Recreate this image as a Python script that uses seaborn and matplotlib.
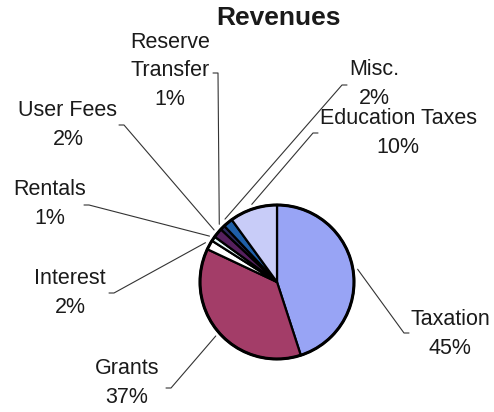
import numpy as np
import matplotlib
matplotlib.use("Agg")
import matplotlib.pyplot as plt
import seaborn as sns

sns.set_theme(style="white")
plt.rcParams['font.family'] = ['Liberation Sans', 'DejaVu Sans']

# data, clockwise from 12 o'clock
categories = ["Taxation", "Grants", "Interest", "Rentals", "User Fees",
              "Reserve\nTransfer", "Misc.", "Education Taxes"]
shares = [45, 37, 2, 1, 2, 1, 2, 10]
colors = ["#98a4f5", "#a33d68", "#ffffff", "#e6fbfb", "#55205e",
          "#2b2b5e", "#1f5fa8", "#c8ccf8"]

# layout (pixels in the 494x412 picture)
W, H = 494, 412
CX, CY, R = 277, 282, 77
label_xy = [(450, 334), (127, 383), (70, 293), (50, 204), (68, 125),
            (170, 71), (374, 84), (398, 133)]
leader_start = [(404, 333), (171, 388), (114, 293), (89, 205), (124, 125),
                (218, 73), (342, 85), (313, 133)]


def px(x, y):
    return (x - CX) / R, (CY - y) / R


fig = plt.figure(figsize=(W / 100, H / 100), dpi=100)
ax = fig.add_axes([0, 0, 1, 1])
wedges, _ = ax.pie(shares, colors=colors, startangle=90, counterclock=False,
                   radius=1, center=(0, 0),
                   wedgeprops=dict(edgecolor="black", linewidth=1.6))
ax.add_patch(plt.Circle((0, 0), 1, fill=False, edgecolor="black", lw=2.2))

for w, cat, val, (tx, ty), (sx, sy) in zip(wedges, categories, shares,
                                           label_xy, leader_start):
    ax.text(*px(tx, ty), f"{cat}\n{val}%", ha="center", va="center",
            fontsize=15.5, linespacing=1.45, color="#1a1a1a")
    mid = np.deg2rad((w.theta1 + w.theta2) / 2)
    ex, ey = 1.06 * np.cos(mid), 1.06 * np.sin(mid)
    hook = 5 if tx > sx else -5
    xh, yh = px(sx + hook, sy)
    x0, y0 = px(sx, sy)
    ax.plot([xh, x0, ex], [yh, y0, ey], color="#333333", lw=0.8)

ax.text(*px(278, 18), "Revenues", ha="center", va="center",
        fontsize=19, fontweight="bold", color="#1a1a1a")

ax.set_xlim(-CX / R, (W - CX) / R)
ax.set_ylim(-(H - CY) / R, CY / R)
ax.set_aspect("equal")
ax.axis("off")
fig.savefig("out.png", dpi=100)
